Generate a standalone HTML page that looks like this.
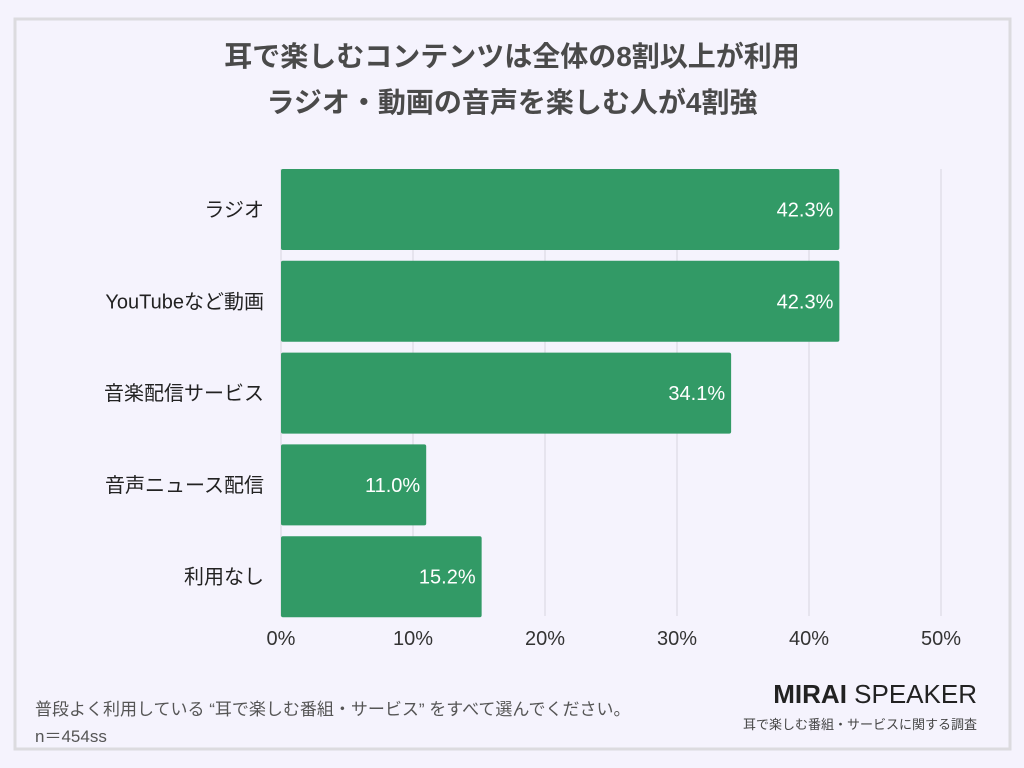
<!DOCTYPE html>
<html><head><meta charset="utf-8"><style>
html,body{margin:0;padding:0;width:1024px;height:768px;background:#f5f3fd;overflow:hidden}
svg{display:block;font-family:"Liberation Sans","Noto Sans CJK JP",sans-serif}
</style></head><body>
<svg id="chart" width="1024" height="768" xmlns="http://www.w3.org/2000/svg">
<rect x="15" y="19" width="995" height="730" fill="#f5f3fd" stroke="#dcdbdf" stroke-width="3"/>
<text x="512" y="66" text-anchor="middle" font-size="28" font-weight="bold" fill="#4a4a4a">耳で楽しむコンテンツは全体の8割以上が利用</text>
<text x="512" y="112" text-anchor="middle" font-size="28" font-weight="bold" fill="#4a4a4a">ラジオ・動画の音声を楽しむ人が4割強</text>
<g id="grid"></g><g id="bars"></g><g id="xticks"></g>
<text x="35" y="715" font-size="17" fill="#555">普段よく利用している “耳で楽しむ番組・サービス” をすべて選んでください。</text>
<text x="35" y="742" font-size="17" fill="#555">n＝454ss</text>
<text x="977" y="703" text-anchor="end" font-size="26" fill="#222"><tspan font-weight="bold">MIRAI</tspan> SPEAKER</text>
<text x="977" y="729" text-anchor="end" font-size="13" fill="#444">耳で楽しむ番組・サービスに関する調査</text>
</svg>
<script>
const categories=["ラジオ","YouTubeなど動画","音楽配信サービス","音声ニュース配信","利用なし"];
const values=[42.3,42.3,34.1,11.0,15.2];
const tickValues=[0,10,20,30,40,50];
const tickLabels=["0%","10%","20%","30%","40%","50%"];
const NS="http://www.w3.org/2000/svg";
const x0=281,x1=941,xmax=50;
const xs=v=>x0+(x1-x0)*v/xmax;
const yTop=169,pitch=91.8,bh=81;
const ys=i=>yTop+i*pitch;
function mk(t,a){const e=document.createElementNS(NS,t);for(const k in a)e.setAttribute(k,a[k]);return e;}
const grid=document.getElementById('grid'),bars=document.getElementById('bars'),xt=document.getElementById('xticks');
tickValues.forEach((v,i)=>{
  const l=mk('line',{x1:xs(v),x2:xs(v),y1:169,y2:616,stroke:'#d8d6de','stroke-width':1});
  
  
  grid.appendChild(l);
  const t=mk('text',{x:xs(v),y:645,'text-anchor':'middle','font-size':20,fill:'#333'});
  t.textContent=tickLabels[i];
  
  
  xt.appendChild(t);
});
categories.forEach((c,i)=>{
  const y=ys(i);
  const r=mk('rect',{x:x0,y:y,width:xs(values[i])-x0,height:bh,fill:'#329a66',rx:2});
  
  
  bars.appendChild(r);
  const v=mk('text',{x:xs(values[i])-6,y:y+bh/2+7,'text-anchor':'end','font-size':20,fill:'#fff'});
  v.textContent=values[i].toFixed(1)+'%';
  
  
  bars.appendChild(v);
  const lb=mk('text',{x:264,y:y+bh/2+7,'text-anchor':'end','font-size':20,fill:'#222'});
  lb.textContent=c;
  
  
  bars.appendChild(lb);
});
</script>
</body></html>
